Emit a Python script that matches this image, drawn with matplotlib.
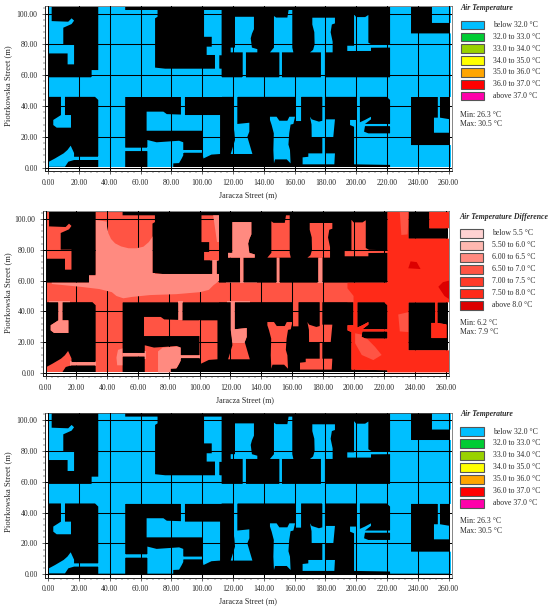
import matplotlib
matplotlib.use("Agg")
import matplotlib.pyplot as plt
from matplotlib.patches import Polygon, Rectangle
from matplotlib.path import Path
from matplotlib.ticker import MultipleLocator, FormatStrFormatter
import numpy as np

plt.rcParams['font.family'] = ['Liberation Serif', 'DejaVu Serif']
TXT = '#2a2a2a'

x_ticks = list(range(0, 261, 20))
y_ticks = list(range(0, 101, 20))

temp_title = 'Air Temperature'
temp_labels = ['below 32.0 °C', '32.0 to 33.0 °C', '33.0 to 34.0 °C', '34.0 to 35.0 °C',
               '35.0 to 36.0 °C', '36.0 to 37.0 °C', 'above 37.0 °C']
temp_colors = ['#00BFFF', '#00CC33', '#99D200', '#FFFF00', '#FFA500', '#FF0000', '#FF00AA']
temp_minmax = ['Min: 26.3 °C', 'Max: 30.5 °C']

diff_title = 'Air Temperature Difference'
diff_labels = ['below 5.5 °C', '5.50 to 6.0 °C', '6.00 to 6.5 °C', '6.50 to 7.0 °C',
               '7.00 to 7.5 °C', '7.50 to 8.0 °C', 'above 8.0 °C']
diff_colors = ['#FFD2D2', '#FFB8B0', '#FF8A80', '#FF5444', '#FF3A28', '#FF2A18', '#DC0000']
diff_minmax = ['Min: 6.2 °C', 'Max: 7.9 °C']

# Open (non-building) areas of the site, in metres
street_main = [(0.5, 46), (262, 46), (262, 58.7), (0.5, 58.7)]
street_v1 = [(32.5, 0.4), (50, 0.4), (50, 46), (32.5, 46), (30.4, 46), (32.5, 44)]
street_upper = [(32.5, 46), (71, 46), (112.6, 46), (112.6, 64.3), (76, 64.3), (69.4, 65), (69.4, 97),
                (71, 98), (71, 102.4), (50, 102.4), (50, 104.5), (32.5, 104.5), (32.5, 63.4),
                (28.2, 63.4), (28.2, 58), (32.5, 58)]
east_area = [(222, 0.4), (262, 0.4), (262, 14.7), (235.6, 14.7), (235.6, 46), (262, 46), (262, 87.2),
             (235.6, 87.2), (235.6, 104.5), (222, 104.5), (222, 46), (219.8, 46), (222, 44)]
east_notch = [(249.2, 94), (262, 94), (262, 104.5), (249.2, 104.5)]
east_yard = [(253, 46), (254.4, 46), (254.4, 32.5), (260.5, 31.5), (260.5, 22.7), (250.5, 22.7),
             (250.5, 32.5), (253, 32.5)]
yard_nw = [(0.5, 104.5), (2.25, 104.5), (2.25, 95.2), (13, 94.8), (15.2, 97), (16.8, 95.5), (15.2, 93.3),
           (9.8, 90.9), (9.8, 80.1), (16.8, 80.1), (16.8, 67.1), (12.6, 67.1), (12.6, 74.2), (0.5, 74.2)]
yard_n2 = [(101.2, 102.4), (112.6, 102.4), (112.6, 73), (111.1, 73), (111.1, 64), (108.3, 64), (108.3, 73.2),
           (102.9, 73.2), (102.9, 78.6), (106.2, 78.6), (106.2, 85), (101.2, 85)]
yard_n3 = [(121.3, 98), (133.6, 98), (133.6, 90), (132.3, 87), (131.5, 84), (132.3, 78), (135.8, 77),
           (135.8, 74.9), (128.4, 74.9), (128.4, 58), (126.3, 58), (126.3, 74.9), (118.5, 74.9),
           (118.5, 78), (121.3, 78)]
yard_n4 = [(146.6, 98.5), (148, 97.5), (155.3, 97.5), (156.1, 102.4), (158.5, 102.4), (158.5, 78),
           (159.2, 74.9), (151.8, 74.9), (151.8, 58), (150.1, 58), (150.1, 74.9), (144, 74.9), (146.6, 78)]
yard_n5 = [(171.5, 97.4), (186.2, 97.4), (186.2, 93.7), (184.2, 93), (183.4, 88), (184.7, 81.8),
           (184.7, 74.9), (179.7, 74.9), (179.7, 58), (177.1, 58), (177.1, 74.9), (170, 74.9),
           (172, 76.5), (173, 80), (172.8, 88), (171.5, 93)]
yard_n6 = [(198.6, 99.5), (200, 97.8), (205.8, 97.8), (207.9, 99.2), (207.9, 81.2), (210, 80), (222, 79.7),
           (222, 78), (209.6, 77.9), (209.6, 75.8), (194.2, 75.8), (194.2, 79.2), (198.6, 79.2)]
yard_s1 = [(8.3, 47), (10.9, 47), (10.9, 34.2), (14.8, 34.2), (14.8, 26), (5.5, 26), (3.3, 27.7),
           (3.3, 31), (6.6, 33.1), (8.3, 34.2)]
yard_sw = [(0.5, 3.9), (4.4, 6), (10, 9.3), (12.5, 11.5), (14.6, 14.3), (16.8, 9.5), (16.8, 7.1), (33, 7.1),
           (33, 5), (16.8, 5), (13.1, 3.9), (10.9, 0.6), (0.5, 0.6)]
yard_a = [(63.9, 36.4), (74.8, 36.4), (77, 34.8), (86.2, 34.5), (86.2, 47), (88.8, 47), (88.8, 34.2),
          (100.1, 34.2), (100.1, 24), (63.9, 24)]
yard_b = [(99.9, 34.2), (111.6, 34.2), (111.6, 8.9), (106, 8.5), (100.8, 6), (100.1, 9.7), (87, 9.7),
          (87, 11.5), (99.9, 11.5)]
yard_c = [(64.4, 18), (70.4, 16.5), (85, 17.5), (87.7, 16.5), (87.7, 8), (86.7, 6), (85, 3), (81.2, 2.8),
          (81.2, 0.4), (64.4, 0.4)]
yard_d = [(49.5, 13), (65, 13), (65, 10.8), (49.5, 10.8)]
yard_s3 = [(120.2, 47), (122.8, 47), (122.8, 28.4), (130.6, 29.2), (130.6, 23.4), (129.3, 20.1),
           (132.6, 8.9), (118.5, 8.9), (121.3, 18), (120.9, 23), (120.2, 28)]
yard_s4 = [(144, 33.1), (148.3, 33.1), (150.1, 30.5), (155.3, 30.5), (156.6, 33.1), (160.3, 33.1),
           (159.2, 28.4), (157.4, 28), (156.5, 22.3), (156, 15), (157, 11.5), (157.4, 2.8), (154.9, 5.4),
           (147.3, 5.4), (146.6, 2.8), (146.2, 11.5), (146.5, 22.3), (145.1, 27.7), (144, 31)]
yard_s4b = [(160.3, 30.3), (164.2, 30.3), (164.2, 47), (160.3, 47)]
yard_s5 = [(170, 33.1), (171.1, 31.4), (175.8, 29.9), (178, 30.5), (178, 47), (179.7, 47), (179.7, 31.4),
           (186.2, 31.4), (185.1, 19.7), (179.7, 19.7), (179.7, 9.3), (186.2, 9.3), (185.8, 2.2),
           (165.2, 2.2), (165.2, 6.7), (168.9, 7.1), (168.9, 9.3), (178, 9.3), (178, 19.7), (171.1, 19.7),
           (171, 28)]
yard_s6 = [(196, 31), (199.9, 31), (199.9, 47), (202.4, 47), (202.4, 29.5), (205.7, 31), (209.6, 33.1),
           (209.6, 31.4), (205.7, 28.4), (222.5, 28.4), (222.5, 27), (205.7, 27), (205.1, 23.4),
           (207.9, 22.3), (222.5, 22.3), (222.5, 1.8), (198.6, 2.2), (198.6, 26.6), (196, 27.7)]

open_areas = [street_main, street_v1, street_upper, east_area, east_notch, east_yard, yard_nw, yard_n2,
              yard_n3, yard_n4, yard_n5, yard_n6, yard_s1, yard_sw, yard_a, yard_b, yard_c, yard_d,
              yard_s3, yard_s4, yard_s4b, yard_s5, yard_s6]

# Temperature-difference bands over the open areas: (legend band index, outline in metres)
diff_base_band = 3
diff_regions = [
    (2, [(32.5, 99.4), (39.7, 98.3), (39.9, 95), (40.8, 90.7), (42.5, 87), (45.1, 84.2), (49, 82.2), (53.8, 81),
         (59, 81), (63.5, 82), (67, 85), (71, 90.7), (71, 64.4), (113, 64.4), (113, 60), (109, 57),
         (106, 54), (100.3, 52.5), (85, 51.2), (67.8, 50.6), (56, 49.4), (50.5, 48.5), (46, 50), (43, 52.5),
         (35, 54.5), (22.4, 56), (4, 57.8), (4, 58.8), (28, 58.8), (28, 64), (32.5, 64)]),
    (2, [(2, 25), (16, 25), (16, 47), (2, 47)]),
    (2, [(118, 19.5), (133, 19.5), (133, 47), (118, 47)]),
    (2, [(117, 58.7), (137, 58.7), (137, 100), (117, 100)]),
    (2, [(73, 0), (73, 14), (76, 16.5), (88, 17.5), (88, 5), (81, 0)]),
    (2, [(87, 9), (100, 9), (100, 12), (87, 12)]),
    (2, [(86, 34.5), (89, 34.5), (89, 47), (86, 47)]),
    (2, [(176.5, 58.7), (180, 58.7), (180, 75), (176.5, 75)]),
    (2, [(149.5, 58.7), (152.5, 58.7), (152.5, 75), (149.5, 75)]),
    (2, [(107, 64), (112, 64), (112, 73.2), (107, 73.2)]),
    (2, [(108.5, 103), (113, 103), (113, 85), (111, 85)]),
    (2, [(50, 9), (65, 9), (65, 14), (50, 14)]),
    (2, [(46.5, 5), (46, 10), (47, 15), (50, 16), (50, 5)]),
    (2, [(16, 4.8), (33, 4.8), (33, 8), (16, 8)]),
    (5, [(222, 105), (262, 105), (262, 0), (196, 0), (196, 46), (200, 46), (200, 50), (196, 55),
         (196, 58.7), (222, 58.7)]),
    (3, [(201, 19.3), (205.3, 11.7), (212.8, 8.4), (218.2, 11.7), (213.9, 17), (206.3, 24.7), (201, 25.8)]),
    (3, [(230, 104.5), (236, 104.5), (235, 90), (231, 89.6)]),
    (3, [(229, 38), (235.6, 39.5), (235.6, 26.6), (230, 27)]),
    (6, [(235.5, 68), (237, 72.5), (241, 72), (243.5, 67.5)]),
    (6, [(255, 56), (258, 59), (262, 60), (262, 48), (259, 50)]),
]

site_x = (0.5, 261)
site_y = (0.4, 104.5)


def ccw(poly):
    arr = np.array(poly, float)
    area = np.sum(arr[:, 0] * np.roll(arr[:, 1], -1) - np.roll(arr[:, 0], -1) * arr[:, 1])
    return arr if area > 0 else arr[::-1]


def open_path():
    return Path.make_compound_path(*[Path(np.vstack([ccw(p), ccw(p)[0]]), closed=True) for p in open_areas])


W, H = 550, 609
fig = plt.figure(figsize=(W / 100, H / 100), dpi=100)
fig.patch.set_facecolor('white')


def panel(x0, sx, y0, sy, base, regions, title, labels, colors, minmax, lx, ty, sw_y, step, text_x, min_y, max_y,
          xlabel_y, ylabel_y):
    xlo, xhi = -1.9, 261.9
    ylo, yhi = -2.1, 105.0
    left = x0 + sx * xlo
    right = x0 + sx * xhi
    bottom = y0 - sy * ylo
    top = y0 - sy * yhi
    ax = fig.add_axes([left / W, 1 - bottom / H, (right - left) / W, (bottom - top) / H])
    ax.set_xlim(xlo, xhi)
    ax.set_ylim(ylo, yhi)
    ax.add_patch(Rectangle((site_x[0], site_y[0]), site_x[1] - site_x[0], site_y[1] - site_y[0],
                           fc='black', ec='none', zorder=1))
    clip = open_path()
    floor = Rectangle((site_x[0], site_y[0]), xhi - site_x[0] - 0.4, site_y[1] - site_y[0], fc=base, ec='none',
                      zorder=2)
    ax.add_patch(floor)
    floor.set_clip_path(clip, ax.transData)
    for band, poly in regions:
        pg = Polygon(poly, closed=True, fc=colors[band], ec='none', zorder=3)
        ax.add_patch(pg)
        pg.set_clip_path(clip, ax.transData)
    ax.set_xticks(x_ticks)
    ax.set_yticks(y_ticks)
    ax.xaxis.set_major_formatter(FormatStrFormatter('%.2f'))
    ax.yaxis.set_major_formatter(FormatStrFormatter('%.2f'))
    ax.xaxis.set_minor_locator(MultipleLocator(4))
    ax.yaxis.set_minor_locator(MultipleLocator(4))
    ax.grid(True, which='major', color='black', lw=0.75, zorder=4)
    ax.set_axisbelow(False)
    ax.tick_params(which='major', length=2.5, width=0.5, labelsize=5.6, pad=3, colors=TXT)
    ax.tick_params(which='minor', length=1.2, width=0.35, colors=TXT)
    for name, sp in ax.spines.items():
        sp.set_linewidth(0.7 if name in ('left', 'bottom') else 0.5)
        sp.set_color('#222222' if name in ('left', 'bottom') else '#555555')
    fig.text((x0 + 129.7 * sx) / W, 1 - xlabel_y / H, 'Jaracza Street (m)', fontsize=5.8, color=TXT,
             ha='center', va='center')
    fig.text(8 / W, 1 - ylabel_y / H, 'Piotrkowska Street (m)', fontsize=6.2, color=TXT, rotation=90,
             ha='center', va='center')
    fig.text(lx / W, 1 - ty / H, title, fontsize=5.55, style='italic', weight='bold', color=TXT, va='center')
    for i, (lab, col) in enumerate(zip(labels, colors)):
        cy = sw_y + i * step
        fig.add_artist(Rectangle((lx / W, 1 - (cy + 4.3) / H), 23.5 / W, 8.6 / H, transform=fig.transFigure,
                                 fc=col, ec='#555555', lw=0.8))
        fig.text(text_x / W, 1 - cy / H, lab, fontsize=5.6, color=TXT, va='center')
    fig.text(lx / W, 1 - min_y / H, minmax[0], fontsize=5.6, color=TXT, va='center')
    fig.text(lx / W, 1 - max_y / H, minmax[1], fontsize=5.6, color=TXT, va='center')
    return ax


panel(48.2, 1.54, 167.7, 1.54, temp_colors[0], [], temp_title, temp_labels, temp_colors, temp_minmax,
      460.5, 7.8, 25, 11.85, 493.3, 114.8, 124, 195, 85.5)
panel(45.6, 1.54, 373, 1.54, diff_colors[diff_base_band], diff_regions, diff_title, diff_labels, diff_colors,
      diff_minmax, 459.5, 217.3, 233.3, 12, 492.3, 323.3, 332.3, 400, 293)
panel(48.2, 1.54, 574.3, 1.54, temp_colors[0], [], temp_title, temp_labels, temp_colors, temp_minmax,
      460.3, 414.3, 431.5, 11.95, 493.3, 520.7, 530.7, 601.5, 492)

fig.savefig('out.png', dpi=100)
